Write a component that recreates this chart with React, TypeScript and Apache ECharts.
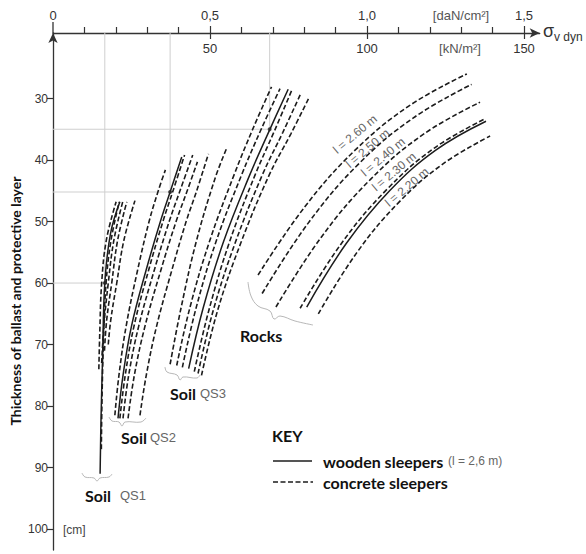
import React, { useEffect, useRef } from "react";
import * as echarts from "echarts";

// Axis ranges (kN/m² horizontally, cm vertically)
const X_MIN = 0;
const X_MAX = 155;
const Y_MIN = 19.35;
const Y_MAX = 103.4;

const minorTicks = [10, 20, 30, 40, 60, 70, 80, 90, 110, 120, 130, 140];
const majorTicks = [50, 100, 150];
const daNTicks = [0, 50, 100, 150];
const yTicks = [30, 40, 50, 60, 70, 80, 90, 100];

// Soil QS1
const qs1Wood = [[15.0, 91], [15.3, 82], [15.8, 72], [16.5, 60], [18.3, 52], [21.3, 46.8]];
const qs1A = [[14.6, 74], [14.9, 68], [15.5, 60], [17.0, 53], [20.1, 46.8]];
const qs1B = [[15.4, 87], [15.6, 79], [16.1, 69], [16.9, 60], [18.5, 53], [21.1, 46.8]];
const qs1C = [[15.5, 73], [16.2, 67], [17.6, 60], [19.4, 53], [22.2, 46.8]];
const qs1D = [[16.4, 71], [17.1, 66], [18.7, 60], [20.6, 53], [23.5, 46.8]];
const qs1E = [[17.6, 70], [18.4, 66], [20.3, 60], [22.6, 53], [26.1, 46.6]];

// Soil QS2
const qs2A = [[19.7, 81.5], [21.0, 75], [23.3, 67], [26.9, 58], [30.6, 50], [33.4, 45.2], [35.8, 41.6]];
const qs2Wood = [[20.7, 82], [22.3, 75], [25.0, 67], [29.6, 58], [34.2, 50], [37.3, 45.2], [41.0, 39.5]];
const qs2B = [[21.3, 82], [23.0, 75], [25.8, 67], [30.4, 58], [35.0, 50], [38.1, 45.2], [41.9, 39.2]];
const qs2C = [[22.3, 82], [24.1, 75], [27.3, 67], [32.2, 58], [37.0, 50], [40.3, 45.2], [44.5, 39.2]];
const qs2D = [[23.9, 82], [25.9, 75], [29.3, 67], [34.3, 58], [39.2, 50], [42.6, 45.2], [46.0, 40.3]];
const qs2E = [[27.7, 81.5], [29.7, 75], [33.0, 67], [37.8, 58], [42.4, 50], [45.5, 45.4], [49.5, 39.0]];

// Soil QS3
const qs3Odd = [[37.3, 73.2], [40.8, 64], [45.6, 53.3], [51.6, 43], [55.3, 38.1]];
const qs3A = [[39.4, 73.4], [43.6, 64], [49.8, 53.3], [57.6, 42.5], [63.6, 35], [69.6, 28.1]];
const qs3B = [[41.2, 73.7], [45.6, 64], [51.9, 53.3], [60.0, 42.5], [66.3, 35], [72.3, 28.4]];
const qs3Wood = [[43.2, 73.9], [47.8, 64.1], [54.3, 53.3], [62.6, 42.5], [69.0, 35.1], [74.9, 28.5]];
const qs3C = [[45.0, 74.4], [49.6, 64.5], [56.1, 53.5], [64.3, 42.5], [70.5, 35.3], [76.0, 28.7]];
const qs3D = [[46.2, 74.7], [51.0, 64.5], [58.0, 53.5], [66.6, 42.5], [73.2, 35.5], [78.9, 29.2]];
const qs3E = [[47.3, 75], [52.4, 64.5], [59.8, 53.5], [68.8, 42.5], [75.8, 35.7], [81.5, 29.9]];

// Rocks
const rk260 = [[65.3, 58.7], [80.2, 47.6], [96.2, 38.4], [113.4, 31.2], [131.8, 26.0]];
const rk250 = [[66.6, 61.7], [81.5, 50.1], [97.6, 40.5], [114.9, 33.1], [133.3, 27.7]];
const rk240 = [[71.0, 63.9], [85.5, 52.5], [101.2, 43.1], [118.0, 35.8], [136.0, 30.6]];
const rk230 = [[78.7, 64.1], [91.8, 53.6], [106.1, 44.9], [121.3, 38.1], [137.6, 33.3]];
const rkWood = [[80.8, 63.9], [93.5, 53.5], [107.2, 45.0], [121.9, 38.4], [137.9, 33.7]];
const rk220 = [[84.5, 65.0], [96.7, 55.1], [109.9, 47.0], [124.0, 40.7], [139.2, 36.1]];

const woodenCurves = [qs1Wood, qs2Wood, qs3Wood, rkWood];
const concreteCurves = [
  qs1A, qs1B, qs1C, qs1D, qs1E,
  qs2A, qs2B, qs2C, qs2D, qs2E,
  qs3Odd, qs3A, qs3B, qs3C, qs3D, qs3E,
  rk260, rk250, rk240, rk230, rk220,
];

// Reading-guide points (on the wooden-sleeper curves)
const guides = [[16.5, 60], [37.3, 45.2], [69, 35]];

const rockLabels = ["l = 2.60 m", "l = 2.50 m", "l = 2.40 m", "l = 2.30 m", "l = 2.20 m"];
const rockLabelPos = [[96.2, 35.8], [100.2, 38.1], [105.1, 39.5], [108.6, 41.9], [112.7, 44.4]];

const SANS = "'Liberation Sans', Arial, sans-serif";
const BOLD = "Lato, 'Open Sans', sans-serif";
const INK = "#1c1c1c";

function buildOption(extraGraphic: any[]) {
  const series: any[] = [];
  guides.forEach((g) => {
    series.push({
      type: "line", data: [[g[0], Y_MIN], [g[0], g[1]]], symbol: "none", silent: true, z: 1,
      lineStyle: { color: "#cfcfcf", width: 1 },
    });
    series.push({
      type: "line", data: [[X_MIN, g[1]], [g[0], g[1]]], symbol: "none", silent: true, z: 1,
      lineStyle: { color: "#cfcfcf", width: 1 },
    });
  });
  concreteCurves.forEach((c) => {
    series.push({
      type: "line", data: c, smooth: 0.4, symbol: "none", silent: true, z: 3,
      lineStyle: { color: INK, width: 1.6, type: [5, 2.5] },
    });
  });
  woodenCurves.forEach((c) => {
    series.push({
      type: "line", data: c, smooth: 0.4, symbol: "none", silent: true, z: 4,
      lineStyle: { color: INK, width: 1.5, type: "solid" },
    });
  });
  series.push({
    type: "scatter", data: guides, symbol: "circle", symbolSize: 4, silent: true, z: 5,
    itemStyle: { color: "#222" },
  });

  const axisLineStyle = { color: "#333", width: 1.3 };
  const txt = (x: number, y: number, text: string, opt: any = {}) => ({
    type: "text", x, y, silent: true, rotation: opt.rotation || 0,
    style: {
      text, fill: opt.fill || "#222", fontSize: opt.fontSize || 13,
      fontFamily: opt.fontFamily || SANS, fontWeight: opt.fontWeight || "normal",
      align: opt.align || "left", verticalAlign: "middle",
    },
  });
  const brace = (pts: number[][]) => ({
    type: "polyline", silent: true,
    shape: { points: pts, smooth: 0.4 },
    style: { stroke: "#b8b8b8", lineWidth: 1, fill: null },
  });

  const graphic: any[] = [
    { type: "line", silent: true, shape: { x1: 53, y1: 22, x2: 53, y2: 33 }, style: { stroke: "#333", lineWidth: 1.3 } },
    txt(461, 15, "[daN/cm²]", { fill: "#555", fontSize: 13, align: "center" }),
    txt(460, 48, "[kN/m²]", { fill: "#555", fontSize: 13, align: "center" }),
    txt(543, 31, "σ", { fill: "#333", fontSize: 18 }),
    txt(554, 37, "v dyn", { fill: "#333", fontSize: 12 }),
    txt(15, 301, "Thickness of ballast and protective layer", {
      fontFamily: BOLD, fontWeight: "bold", fontSize: 14, fill: "#111", align: "center", rotation: Math.PI / 2,
    }),
    txt(63, 530, "[cm]", { fill: "#444", fontSize: 12 }),
    // soil / rocks labels
    txt(85, 495, "Soil", { fontFamily: BOLD, fontWeight: "bold", fontSize: 16, fill: "#111" }),
    txt(120, 495, "QS1", { fill: "#666", fontSize: 13 }),
    txt(121, 437, "Soil", { fontFamily: BOLD, fontWeight: "bold", fontSize: 16, fill: "#111" }),
    txt(150, 437, "QS2", { fill: "#666", fontSize: 13 }),
    txt(170, 393, "Soil", { fontFamily: BOLD, fontWeight: "bold", fontSize: 16, fill: "#111" }),
    txt(200, 393, "QS3", { fill: "#666", fontSize: 13 }),
    txt(240, 335, "Rocks", { fontFamily: BOLD, fontWeight: "bold", fontSize: 16, fill: "#111" }),
    brace([[82, 473], [85, 477], [94, 478], [97, 481], [100, 478], [109, 477], [112, 474]]),
    brace([[109, 417], [112, 421], [119, 422], [122, 426], [125, 422], [141, 422], [146, 418]]),
    brace([[165, 367], [167, 372], [177, 375], [180, 380], [183, 377], [197, 378], [200, 375]]),
    brace([[248, 282], [251, 296], [258, 306], [270, 311], [274, 319], [280, 316], [295, 321], [313, 325]]),
    // key
    txt(272, 435, "KEY", { fontFamily: BOLD, fontWeight: "bold", fontSize: 16, fill: "#111" }),
    { type: "line", silent: true, shape: { x1: 273, y1: 461, x2: 312, y2: 461 }, style: { stroke: INK, lineWidth: 1.5 } },
    { type: "line", silent: true, shape: { x1: 273, y1: 482, x2: 313, y2: 482 }, style: { stroke: INK, lineWidth: 1.6, lineDash: [5, 2.5] } },
    txt(323, 461, "wooden sleepers", { fontFamily: BOLD, fontWeight: "bold", fontSize: 16, fill: "#111" }),
    txt(448, 461, "(l = 2,6 m)", { fill: "#666", fontSize: 12 }),
    txt(323, 482, "concrete sleepers", { fontFamily: BOLD, fontWeight: "bold", fontSize: 16, fill: "#111" }),
    ...extraGraphic,
  ];

  return {
    animation: false,
    backgroundColor: "#fff",
    grid: { left: 53, top: 33, right: 46.3, bottom: 4, containLabel: false },
    xAxis: [
      {
        type: "value", position: "top", offset: 0, min: X_MIN, max: X_MAX,
        axisLine: { show: true, onZero: false, symbol: ["none", "arrow"], symbolSize: [7, 10], lineStyle: axisLineStyle },
        axisTick: { show: true, customValues: minorTicks, length: 6, lineStyle: { color: "#333", width: 1.2 } },
        axisLabel: { show: false },
        splitLine: { show: false },
      },
      {
        type: "value", position: "top", offset: 0, min: X_MIN, max: X_MAX,
        axisLine: { show: false, onZero: false },
        axisTick: { show: true, inside: true, customValues: majorTicks, length: 6, lineStyle: { color: "#333", width: 1.2 } },
        axisLabel: { show: true, inside: true, customValues: majorTicks, margin: 9, color: "#333", fontSize: 13, fontFamily: SANS },
        splitLine: { show: false },
      },
      {
        type: "value", position: "top", offset: 0, min: X_MIN, max: X_MAX,
        axisLine: { show: false, onZero: false },
        axisTick: { show: true, customValues: majorTicks, length: 7, lineStyle: { color: "#333", width: 1.2 } },
        axisLabel: {
          show: true, customValues: daNTicks, margin: 11, color: "#333", fontSize: 13, fontFamily: SANS,
          formatter: (v: number) => (v === 0 ? "0" : (v / 100).toFixed(1).replace(".", ",")),
        },
        splitLine: { show: false },
      },
    ],
    yAxis: {
      type: "value", inverse: true, min: Y_MIN, max: Y_MAX,
      axisLine: { show: true, onZero: false, symbol: ["none", "arrow"], symbolSize: [7, 10], lineStyle: axisLineStyle },
      axisTick: { show: true, customValues: yTicks, length: 6, lineStyle: { color: "#333", width: 1.2 } },
      axisLabel: { show: true, customValues: yTicks, margin: 5, color: "#333", fontSize: 12, fontFamily: SANS },
      splitLine: { show: false },
    },
    series,
    graphic,
  };
}

export default function App() {
  const ref = useRef<HTMLDivElement>(null);
  useEffect(() => {
    if (!ref.current) return;
    const chart = echarts.init(ref.current, null, { renderer: "svg" });
    chart.setOption(buildOption([]));
    const labels = rockLabels.map((t, i) => {
      const p = chart.convertToPixel({ xAxisIndex: 0, yAxisIndex: 0 }, rockLabelPos[i]) as number[];
      return {
        type: "text", x: p[0], y: p[1], rotation: (40 * Math.PI) / 180, silent: true,
        style: { text: t, fill: "#666", fontSize: 12, fontFamily: SANS, align: "center", verticalAlign: "middle" },
      };
    });
    chart.setOption(buildOption(labels), { notMerge: true });
    return () => chart.dispose();
  }, []);
  return (
    <div
      ref={ref}
      style={{ position: "absolute", left: 0, top: 0, width: 586, height: 554, background: "#fff" }}
    />
  );
}
